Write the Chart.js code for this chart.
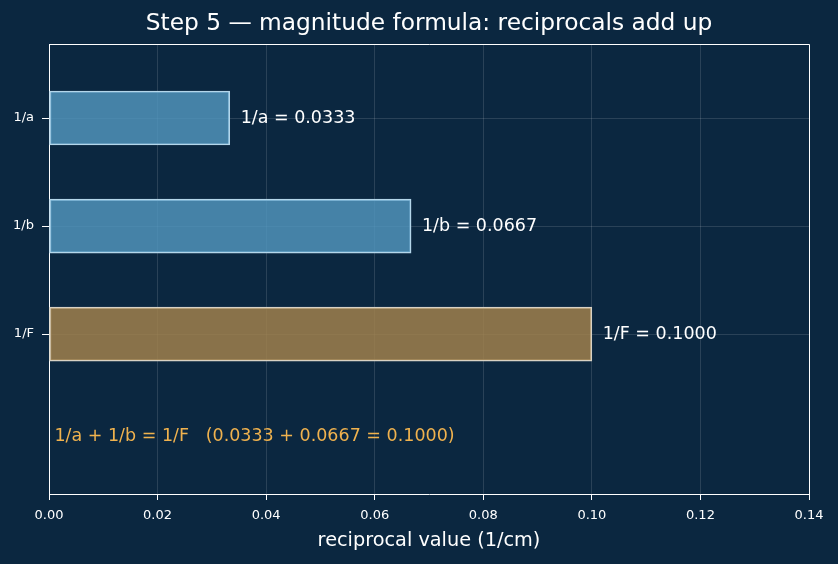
<!DOCTYPE html>
<html>
<head>
<meta charset="utf-8">
<script src="https://cdn.jsdelivr.net/npm/chart.js@4"></script>
<style>
  html, body { margin: 0; padding: 0; background: #0b2740; }
  #wrap { width: 838px; height: 564px; }
</style>
</head>
<body>
<div id="wrap"><canvas id="chart" width="838" height="564"></canvas></div>
<script>
const categories = ["1/a", "1/b", "1/F"];
const reciprocals = [0.0333, 0.0667, 0.1000];
const barFills = ["rgba(82,150,190,0.82)", "rgba(82,150,190,0.82)", "rgba(160,128,76,0.85)"];
const barEdges = ["#b4d6ea", "#b4d6ea", "#d8d2c4"];
const xTicks = [0, 0.02, 0.04, 0.06, 0.08, 0.10, 0.12, 0.14];
const sumText = "1/a + 1/b = 1/F   (0.0333 + 0.0667 = 0.1000)";

const FONT = "'DejaVu Sans', sans-serif";
const bg = "#0b2740";
const gridCol = "rgba(255,255,255,0.13)";

const points = categories.map((c, i) => ({ x: reciprocals[i], y: i }));

const extras = {
  id: "extras",
  beforeDraw(chart) {
    const ctx = chart.ctx;
    ctx.save();
    ctx.fillStyle = bg;
    ctx.fillRect(0, 0, chart.width, chart.height);
    ctx.restore();
  },
  afterDraw(chart) {
    const ctx = chart.ctx;
    const xs = chart.scales.x, ys = chart.scales.y;
    const area = chart.chartArea;
    ctx.save();
    // value labels
    ctx.font = "17.5px " + FONT;
    ctx.fillStyle = "#ffffff";
    ctx.textBaseline = "middle";
    ctx.textAlign = "left";
    categories.forEach((c, i) => {
      ctx.fillText(c + " = " + reciprocals[i].toFixed(4), xs.getPixelForValue(reciprocals[i] + 0.002), ys.getPixelForValue(i));
    });
    // sum note
    ctx.fillStyle = "#f0b24e";
    ctx.fillText(sumText, xs.getPixelForValue(0.001), ys.getPixelForValue(2.95));
    // top/right spines
    ctx.strokeStyle = "#ffffff";
    ctx.lineWidth = 1;
    ctx.beginPath();
    ctx.moveTo(area.left, area.top + 0.5);
    ctx.lineTo(area.right + 0.5, area.top + 0.5);
    ctx.lineTo(area.right + 0.5, area.bottom);
    ctx.stroke();
    // title
    ctx.fillStyle = "#ffffff";
    ctx.textAlign = "center";
    ctx.font = "23.3px " + FONT;
    ctx.fillText("Step 5 \u2014 magnitude formula: reciprocals add up", 429, 24);
    ctx.font = "19.3px " + FONT;
    ctx.fillText("reciprocal value (1/cm)", 429, 541);
    ctx.restore();
  }
};

new Chart(document.getElementById("chart"), {
  type: "bar",
  data: {
    datasets: [{
      data: points,
      backgroundColor: barFills,
      borderColor: barEdges,
      borderWidth: 1.5,
      borderSkipped: false,
      barThickness: 54
    }]
  },
  options: {
    indexAxis: "y",
    responsive: false,
    animation: false,
    layout: { padding: { top: 44, right: 29, left: 0, bottom: 0 } },
    plugins: { legend: { display: false }, tooltip: { enabled: false }, title: { display: false } },
    scales: {
      x: {
        type: "linear",
        min: 0,
        max: 0.14,
        afterBuildTicks: s => { s.ticks = xTicks.map(v => ({ value: v })); },
        afterFit: s => { s.height = 70; },
        ticks: {
          color: "#ffffff",
          font: { family: FONT, size: 13 },
          padding: 8,
          maxRotation: 0,
          callback: v => v.toFixed(2)
        },
        grid: { color: gridCol, tickColor: "#ffffff", tickLength: 6 },
        border: { color: "#ffffff", width: 1 }
      },
      y: {
        type: "linear",
        reverse: true,
        offset: false,
        min: -0.685,
        max: 3.48,
        afterBuildTicks: s => { s.ticks = categories.map((c, i) => ({ value: i })); },
        afterFit: s => { s.width = 49; },
        ticks: {
          color: "#ffffff",
          font: { family: FONT, size: 13 },
          padding: 8,
          callback: v => categories[v]
        },
        grid: { color: gridCol, tickColor: "#ffffff", tickLength: 7, offset: false },
        border: { color: "#ffffff", width: 1 }
      }
    }
  },
  plugins: [extras]
});
</script>
</body>
</html>
